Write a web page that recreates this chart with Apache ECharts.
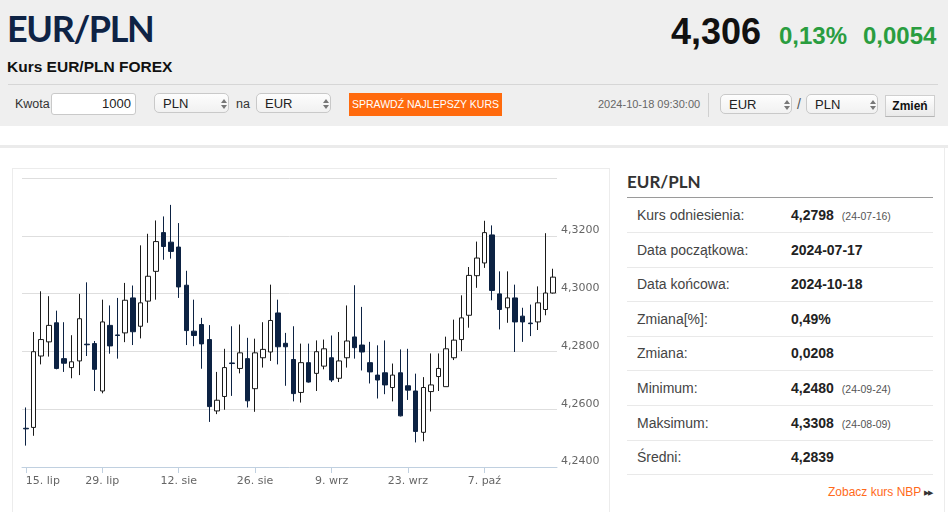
<!DOCTYPE html>
<html>
<head>
<meta charset="utf-8">
<script src="https://cdn.jsdelivr.net/npm/echarts@6/dist/echarts.min.js"></script>
<style>
  html,body{margin:0;padding:0;background:#fff;width:948px;height:512px;overflow:hidden;font-family:"Liberation Sans",Arial,sans-serif;color:#333;}
  .abs{position:absolute;white-space:nowrap;}
  #header{position:absolute;left:0;top:0;width:948px;height:126px;background:#efefef;}
  .sel{position:absolute;height:20px;border:1px solid #c9c9c9;border-radius:5px;background:linear-gradient(#fdfdfd,#f1f1f1);font-size:13px;line-height:20px;box-sizing:border-box;padding-left:8px;color:#222;}
  .sel .arr{position:absolute;right:7px;top:5px;width:0;height:0;}
  .sel .arr:before{content:"";position:absolute;left:0;top:0;border-left:3px solid transparent;border-right:3px solid transparent;border-bottom:4px solid #777;}
  .sel .arr:after{content:"";position:absolute;left:0;top:6px;border-left:3px solid transparent;border-right:3px solid transparent;border-top:4px solid #777;}
  .row{position:absolute;left:627px;width:306px;height:34px;border-bottom:1px solid #e9e9e9;}
  .row .lab{position:absolute;left:10px;top:9px;font-size:14px;color:#444;}
  .row .val{position:absolute;left:164px;top:9px;font-size:14px;font-weight:bold;color:#222;}
  .row .sm{font-size:10.5px;font-weight:normal;color:#555;margin-left:8px;}
</style>
</head>
<body>
<div id="header"></div>
<div class="abs" style="left:7px;top:10px;font-family:Lato;font-weight:bold;font-size:36px;line-height:37px;letter-spacing:-1.4px;color:#0e2345;">EUR/PLN</div>
<div class="abs" style="left:7px;top:59px;font-weight:bold;font-size:15.5px;line-height:16px;color:#111;">Kurs EUR/PLN FOREX</div>
<div class="abs" style="left:671px;top:13px;font-weight:bold;font-size:36px;line-height:38px;color:#111;">4,306</div>
<div class="abs" style="left:779px;top:23px;font-weight:bold;font-size:24px;line-height:26px;color:#2a9d3f;">0,13%</div>
<div class="abs" style="left:863px;top:23px;font-weight:bold;font-size:24px;line-height:26px;color:#2a9d3f;">0,0054</div>
<div class="abs" style="left:8px;top:84px;width:930px;height:1px;background:#d6d6d6;"></div>

<div class="abs" style="left:15px;top:97px;font-size:12.5px;line-height:14px;color:#333;">Kwota</div>
<div class="abs" style="left:51px;top:93px;width:85px;height:22px;box-sizing:border-box;border:1px solid #c9c9c9;border-radius:3px;background:#fff;font-size:13px;line-height:20px;text-align:right;padding-right:4px;color:#222;">1000</div>
<div class="sel" style="left:154px;top:93px;width:75px;">PLN<span class="arr"></span></div>
<div class="abs" style="left:236px;top:97px;font-size:12.5px;line-height:14px;color:#333;">na</div>
<div class="sel" style="left:256px;top:93px;width:75px;">EUR<span class="arr"></span></div>
<div class="abs" style="left:349px;top:93px;width:153px;height:23px;background:#ff6a0d;color:#fff;font-size:10.5px;line-height:23px;text-align:center;">SPRAWDŹ NAJLEPSZY KURS</div>

<div class="abs" style="left:598px;top:98px;font-size:11px;line-height:13px;color:#666;">2024-10-18 09:30:00</div>
<div class="abs" style="left:708px;top:93px;width:1px;height:24px;background:#d0d0d0;"></div>
<div class="sel" style="left:720px;top:94px;width:72px;">EUR<span class="arr"></span></div>
<div class="abs" style="left:797px;top:96px;font-size:14px;line-height:16px;color:#555;">/</div>
<div class="sel" style="left:806px;top:94px;width:72px;">PLN<span class="arr"></span></div>
<div class="abs" style="left:885px;top:95px;width:50px;height:22px;box-sizing:border-box;border:1px solid #cfcfcf;border-bottom-color:#b5b5b5;background:linear-gradient(#ffffff,#e9e9e9);font-size:12px;font-weight:bold;line-height:20px;text-align:center;color:#111;">Zmień</div>

<div class="abs" style="left:0;top:145px;width:948px;height:3px;background:#ebebeb;"></div>
<div class="abs" style="left:12px;top:168px;width:598px;height:360px;border:1px solid #ececec;box-sizing:border-box;"></div>
<div class="abs" style="left:944px;top:148px;width:1px;height:364px;background:#ececec;"></div>

<div id="chart" style="position:absolute;left:12px;top:168px;width:599px;height:344px;"></div>

<div class="abs" style="left:627px;top:172px;font-family:Lato;font-weight:bold;font-size:17px;line-height:20px;color:#333;">EUR/PLN</div>
<div class="abs" style="left:627px;top:197px;width:306px;height:1px;background:#9a9a9a;"></div>
<div id="rows"></div>
<div class="abs" style="left:828px;top:485px;font-size:12px;line-height:14px;color:#ff6a1a;">Zobacz kurs NBP <span style="font-size:7px;color:#333;letter-spacing:-1px;vertical-align:1px;">&#9654;&#9654;</span></div>

<script>
// ---- data ----
var dates = [
  '2024-07-15','2024-07-16','2024-07-17','2024-07-18','2024-07-19',
  '2024-07-22','2024-07-23','2024-07-24','2024-07-25','2024-07-26',
  '2024-07-29','2024-07-30','2024-07-31','2024-08-01','2024-08-02',
  '2024-08-05','2024-08-06','2024-08-07','2024-08-08','2024-08-09',
  '2024-08-12','2024-08-13','2024-08-14','2024-08-15','2024-08-16',
  '2024-08-19','2024-08-20','2024-08-21','2024-08-22','2024-08-23',
  '2024-08-26','2024-08-27','2024-08-28','2024-08-29','2024-08-30',
  '2024-09-02','2024-09-03','2024-09-04','2024-09-05','2024-09-06',
  '2024-09-09','2024-09-10','2024-09-11','2024-09-12','2024-09-13',
  '2024-09-16','2024-09-17','2024-09-18','2024-09-19','2024-09-20',
  '2024-09-23','2024-09-24','2024-09-25','2024-09-26','2024-09-27',
  '2024-09-30','2024-10-01','2024-10-02','2024-10-03','2024-10-04',
  '2024-10-07','2024-10-08','2024-10-09','2024-10-10','2024-10-11',
  '2024-10-14','2024-10-15','2024-10-16','2024-10-17','2024-10-18'
];
var tickLabels = ['15. lip','29. lip','12. sie','26. sie','9. wrz','23. wrz','7. paź'];
var openV = [4.2534,4.2537,4.2784,4.2833,4.2899,4.2775,4.2744,4.2767,4.2825,4.2827,
  4.2663,4.2890,4.2857,4.2864,4.2985,4.2887,4.2974,4.3077,4.3211,4.3178,
  4.3161,4.3029,4.2870,4.2893,4.2841,4.2594,4.2644,4.2760,4.2741,4.2775,
  4.2671,4.2778,4.2798,4.2933,4.2828,4.2772,4.2658,4.2761,4.2724,4.2749,
  4.2778,4.2707,4.2778,4.2850,4.2822,4.2761,4.2718,4.2726,4.2675,4.2726,
  4.2681,4.2663,4.2520,4.2661,4.2713,4.2678,4.2778,4.2841,4.2925,4.3062,
  4.3106,4.3203,4.2999,4.2951,4.2985,4.2922,4.2898,4.2902,4.2945,4.3002];
var closeV = [4.2532,4.2799,4.2841,4.2890,4.2741,4.2759,4.2764,4.2913,4.2823,4.2738,
  4.2902,4.2819,4.2855,4.2977,4.2868,4.2968,4.3060,4.3180,4.3163,4.3146,
  4.3023,4.2872,4.2855,4.2826,4.2609,4.2631,4.2744,4.2758,4.2795,4.2629,
  4.2795,4.2807,4.2907,4.2816,4.2816,4.2654,4.2761,4.2694,4.2799,4.2809,
  4.2701,4.2767,4.2836,4.2813,4.2798,4.2729,4.2701,4.2684,4.2718,4.2577,
  4.2666,4.2523,4.2675,4.2684,4.2741,4.2809,4.2839,4.2916,4.3063,4.3123,
  4.3211,4.3011,4.2945,4.2985,4.2902,4.2902,4.2896,4.2968,4.3002,4.3057];
var lowV = [4.2474,4.2508,4.2755,4.2782,4.2738,4.2729,4.2707,4.2718,4.2784,4.2663,
  4.2655,4.2792,4.2775,4.2832,4.2822,4.2845,4.2899,4.2979,4.3117,4.3121,
  4.2985,4.2822,4.2818,4.2740,4.2556,4.2583,4.2598,4.2646,4.2724,4.2606,
  4.2591,4.2744,4.2767,4.2755,4.2681,4.2627,4.2623,4.2692,4.2663,4.2738,
  4.2694,4.2694,4.2744,4.2775,4.2734,4.2689,4.2637,4.2652,4.2627,4.2575,
  4.2632,4.2485,4.2489,4.2592,4.2663,4.2678,4.2770,4.2801,4.2882,4.3020,
  4.3089,4.2977,4.2876,4.2899,4.2798,4.2833,4.2853,4.2874,4.2925,4.3000];
var highV = [4.2606,4.2867,4.3008,4.2991,4.2941,4.2901,4.2856,4.2999,4.3039,4.2836,
  4.2979,4.2959,4.2985,4.3037,4.3028,4.3167,4.3207,4.3253,4.3267,4.3307,
  4.3244,4.3079,4.2979,4.2916,4.2891,4.2729,4.2809,4.2887,4.2893,4.2847,
  4.2844,4.2901,4.3031,4.2979,4.2864,4.2887,4.2827,4.2827,4.2838,4.2841,
  4.2855,4.2867,4.2959,4.3029,4.2954,4.2833,4.2821,4.2838,4.2758,4.2807,
  4.2809,4.2723,4.2711,4.2793,4.2793,4.2851,4.2910,4.2994,4.3092,4.3180,
  4.3252,4.3236,4.3077,4.3077,4.3031,4.2951,4.2962,4.3025,4.3209,4.3086];

var statLabels = ['Kurs odniesienia:','Data początkowa:','Data końcowa:','Zmiana[%]:','Zmiana:','Minimum:','Maksimum:','Średni:'];
var statValues = ['4,2798','2024-07-17','2024-10-18','0,49%','0,0208','4,2480','4,3308','4,2839'];
var statNotes = ['(24-07-16)','','','','','(24-09-24)','(24-08-09)',''];

// ---- stats table ----
var rowsHtml = '';
for (var r = 0; r < statLabels.length; r++) {
  rowsHtml += '<div class="row" style="top:' + (198 + r * 34.6).toFixed(1) + 'px;">' +
    '<span class="lab">' + statLabels[r] + '</span>' +
    '<span class="val">' + statValues[r] + (statNotes[r] ? '<span class="sm">' + statNotes[r] + '</span>' : '') + '</span></div>';
}
document.getElementById('rows').innerHTML = rowsHtml;

// ---- chart ----
var ohlc = [];
for (var i = 0; i < dates.length; i++) {
  ohlc.push([openV[i], closeV[i], lowV[i], highV[i]]);
}
var chart = echarts.init(document.getElementById('chart'), null, {renderer: 'canvas'});
chart.setOption({
  animation: false,
  grid: {left: 10, top: 10, width: 535, height: 289},
  xAxis: {
    type: 'category',
    data: dates,
    boundaryGap: true,
    axisLine: {show: true, lineStyle: {color: '#c0d0e0', width: 1}},
    axisTick: {show: true, alignWithLabel: true, length: 6, lineStyle: {color: '#c0d0e0'},
      interval: function (idx) { return idx % 10 === 0; }},
    axisLabel: {
      interval: function (idx) { return idx % 10 === 0; },
      formatter: function (v, idx) { return tickLabels[Math.round(idx / 10)] || ''; },
      color: '#666', fontSize: 11, fontFamily: 'DejaVu Sans', margin: 9,
      alignMinLabel: 'left'
    },
    splitLine: {show: false}
  },
  yAxis: {
    type: 'value',
    position: 'right',
    min: 4.24, max: 4.34, interval: 0.02,
    axisLine: {show: false},
    axisTick: {show: false},
    splitLine: {show: true, lineStyle: {color: '#dedede', width: 1}},
    axisLabel: {
      showMaxLabel: false,
      formatter: function (v) { return v.toFixed(4).replace('.', ','); },
      color: '#666', fontSize: 11, fontFamily: 'DejaVu Sans', margin: 4,
      verticalAlign: 'bottom'
    }
  },
  series: [{
    type: 'candlestick',
    data: ohlc,
    barWidth: 5,
    itemStyle: {
      color: '#ffffff', color0: '#0c2243',
      borderColor: '#1a1a1a', borderColor0: '#0c2243', borderWidth: 1
    }
  }]
});
</script>
</body>
</html>
